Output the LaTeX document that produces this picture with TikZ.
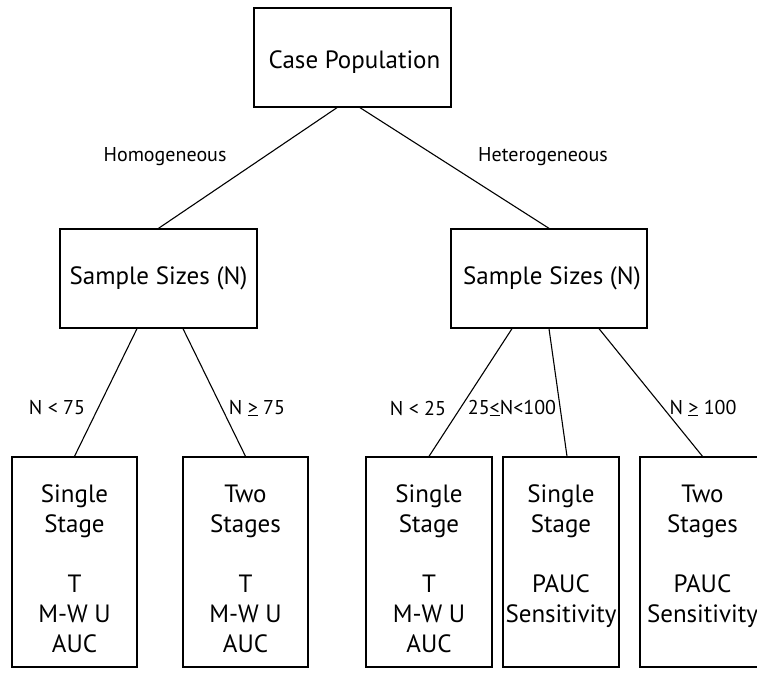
\documentclass[tikz,border=0pt]{standalone}
\usepackage{fontspec}
\setmainfont{PT Sans}
\begin{document}
\begin{tikzpicture}[x=1pt,y=-1pt,
  box/.style={draw,line width=1.3pt,inner sep=0pt,font=\fontsize{25}{30}\selectfont,align=center},
  leaf/.style={draw,line width=1.3pt,inner sep=0pt,minimum height=210pt},
  leaftext/.style={anchor=north,inner sep=0pt,font=\fontsize{25}{30}\selectfont,align=center},
  lbl/.style={font=\fontsize{20}{22}\selectfont,inner sep=0pt},
  conn/.style={line width=1.1pt}]
\useasboundingbox (0,0) rectangle (757,677);
\fill[white] (0,0) rectangle (757,677);
% upper boxes
\node[box,minimum width=197pt,minimum height=99pt,text height=28pt,text depth=5pt] (top) at (352.5,57.5) {\hspace*{4pt}Case Population};
\node[box,minimum width=197pt,minimum height=99pt] (ls) at (158.5,278.5) {Sample Sizes (N)};
\node[box,minimum width=196pt,minimum height=99pt] (rs) at (549,278.5) {\hspace*{6pt}Sample Sizes (N)};
% leaf boxes
\node[leaf,minimum width=125pt] (b1) at (74.5,562) {};
\node[leaf,minimum width=125pt] (b2) at (245.5,562) {};
\node[leaf,minimum width=126pt] (b3) at (429,562) {};
\node[leaf,minimum width=116pt] (b4) at (561,562) {};
\node[leaf,minimum width=125pt] (b5) at (702.5,562) {};
% leaf texts
\node[leaftext] (t1) at ([yshift=-28pt]b1.north) {Single\\Stage\\[30pt]T\\M-W U\\AUC};
\node[leaftext] (t2) at ([yshift=-28pt]b2.north) {Two\\Stages\\[30pt]T\\M-W U\\AUC};
\node[leaftext] (t3) at ([yshift=-28pt]b3.north) {Single\\Stage\\[30pt]T\\M-W U\\AUC};
\node[leaftext] (t4) at ([yshift=-28pt]b4.north) {Single\\Stage\\[30pt]PAUC\\Sensitivity};
\node[leaftext] (t5) at ([yshift=-28pt]b5.north) {Two\\Stages\\[30pt]PAUC\\Sensitivity};
% connectors
\draw[conn] ([xshift=-15.5pt]top.south) -- (ls.north);
\draw[conn] ([xshift=7.5pt]top.south) -- (rs.north);
\draw[conn] ([xshift=-21.5pt]ls.south) -- (b1.north);
\draw[conn] ([xshift=24.5pt]ls.south) -- (b2.north);
\draw[conn] ([xshift=-37pt]rs.south) -- (b3.north);
\draw[conn] (rs.south) -- ([xshift=6pt]b4.north);
\draw[conn] ([xshift=50pt]rs.south) -- (b5.north);
% labels
\node[lbl] (l1) at (165,157) {Homogeneous};
\node[lbl] (l2) at (543,157) {Heterogeneous};
\node[lbl] (l3) at (57,408) {N < 75};
\node[lbl] (l4) at (257,408) {N \underline{>} 75};
\node[lbl] (l5) at (418,408) {N < 25};
\node[lbl] (l6) at (512,408) {25\underline{<}N<100};
\node[lbl] (l7) at (703,408) {N \underline{>} 100};
\end{tikzpicture}
\end{document}
